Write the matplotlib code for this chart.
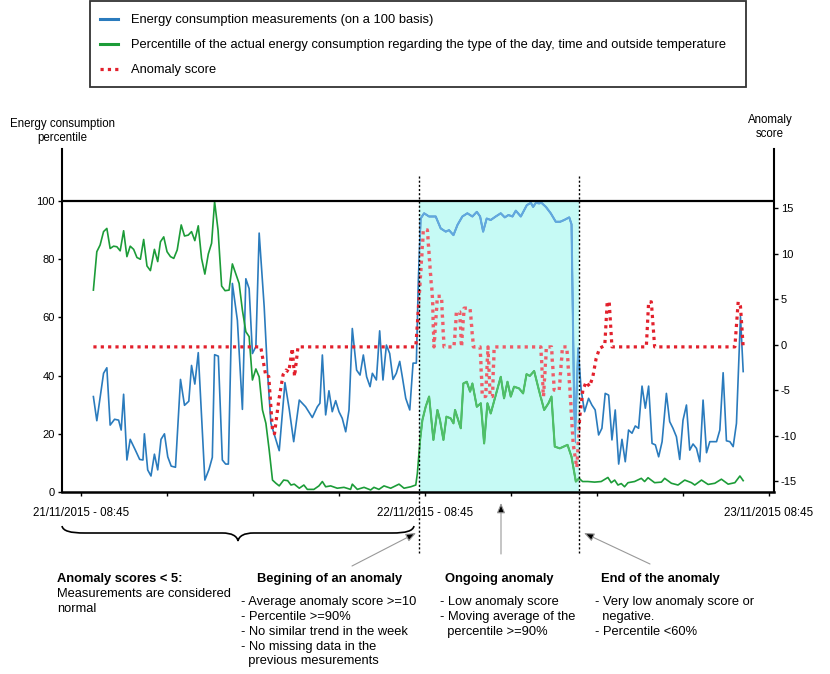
import numpy as np
import matplotlib.pyplot as plt
from matplotlib.path import Path
from matplotlib.patches import PathPatch, Rectangle
import matplotlib.transforms as mtransforms

plt.rcParams['font.family'] = ['Liberation Sans', 'DejaVu Sans']
plt.rcParams['axes.unicode_minus'] = False

W, H = 830, 674

# time axis: hours after 21/11/2015 08:45
t_cons = [0.86, 1.10, 1.57, 1.80, 2.03, 2.34, 2.62, 2.80, 2.97, 3.20, 3.43, 3.79, 4.09, 4.32,
          4.42, 4.65, 4.88, 5.12, 5.35, 5.58, 5.82, 6.05, 6.29, 6.59, 6.94, 7.22, 7.52, 7.71,
          7.94, 8.18, 8.64, 8.93, 9.16, 9.32, 9.58, 9.86, 10.09, 10.28, 10.56, 10.91, 11.26,
          11.50, 11.73, 11.96, 12.20, 12.43, 12.78, 13.01, 13.25, 13.60, 13.83, 14.23, 14.53,
          14.84, 15.23, 15.67, 16.14, 16.49, 16.67, 16.84, 17.07, 17.30, 17.53, 17.77, 18.00,
          18.23, 18.47, 18.70, 18.93, 19.23, 19.47, 19.70, 19.93, 20.17, 20.33, 20.61, 20.84,
          21.07, 21.31, 21.54, 21.77, 22.00, 22.24, 22.42, 22.66, 22.94, 23.17, 23.40, 23.54,
          23.70, 23.94, 24.29, 24.75, 25.10, 25.45, 25.68, 25.99, 26.27, 26.61, 26.96, 27.31,
          27.62, 27.85, 28.06, 28.31, 28.59, 28.94, 29.29, 29.57, 29.83, 30.11, 30.34, 30.69,
          31.11, 31.39, 31.55, 31.74, 31.97, 32.13, 32.44, 32.78, 33.13, 33.44, 33.72, 34.07,
          34.23, 34.45, 34.70, 34.90, 35.14, 35.42, 35.65, 35.88, 36.12, 36.35, 36.58, 36.82,
          37.05, 37.28, 37.52, 37.75, 37.98, 38.21, 38.45, 38.68, 38.91, 39.15, 39.38, 39.61,
          39.85, 40.08, 40.31, 40.55, 40.85, 41.08, 41.31, 41.55, 41.78, 42.01, 42.25, 42.48,
          42.71, 42.95, 43.18, 43.41, 43.65, 43.88, 44.11, 44.35, 44.58, 44.81, 45.04, 45.28,
          45.51, 45.74, 46.02, 46.21]
consumption = [32.8, 24.5, 40.8, 42.7, 23.0, 25.0, 24.7, 21.3, 33.6, 11.0, 18.1, 14.4, 11.2, 11.0,
               20.0, 7.6, 5.5, 13.0, 7.6, 18.1, 20.0, 12.1, 8.9, 8.5, 38.7, 29.8, 31.2, 43.5,
               37.1, 47.9, 4.1, 7.8, 11.9, 47.2, 46.7, 11.0, 9.6, 9.6, 71.7, 59.0, 28.4,
               73.3, 69.9, 47.6, 50.0, 89.0, 63.7, 41.4, 23.6, 17.9, 14.2, 37.6, 28.4,
               17.3, 31.6, 29.3, 25.6, 29.3, 30.5, 47.1, 26.5, 34.8, 27.6, 31.4, 27.6,
               25.3, 20.7, 28.2, 56.2, 41.9, 40.2, 47.1, 39.6, 36.2, 40.8, 38.5, 55.4,
               38.5, 50.5, 47.6, 38.7, 40.8, 44.9, 39.6, 32.2, 28.2, 44.3, 44.3, 72.9,
               94.0, 95.8, 94.7, 94.7, 90.6, 89.5, 90.0, 88.3, 91.8, 94.7, 95.8, 94.7,
               96.3, 94.7, 89.5, 94.0, 93.5, 94.7, 95.8, 94.4, 95.2, 94.7, 96.7, 94.7,
               98.6, 99.4, 98.0, 99.4, 99.2, 99.4, 98.0, 95.8, 92.9, 92.9, 93.5, 94.4,
               92.0, 17.0, 49.4, 35.0, 27.6, 32.2, 29.9, 28.2, 19.6, 21.9, 33.9, 33.3,
               17.9, 28.2, 9.6, 18.1, 10.4, 21.3, 20.2, 22.7, 21.9, 36.4, 28.8, 36.4,
               16.7, 16.2, 12.1, 17.3, 33.9, 24.2, 21.9, 19.0, 11.2, 24.7, 29.9, 14.4,
               16.5, 15.0, 10.4, 31.6, 13.5, 17.3, 17.3, 17.3, 21.3, 41.0, 17.6, 17.3,
               15.6, 23.6, 60.3, 41.4]

t_perc = [0.86, 1.10, 1.33, 1.57, 1.80, 2.03, 2.27, 2.50, 2.73, 2.97, 3.20, 3.43, 3.67, 3.90,
          4.14, 4.37, 4.60, 4.84, 5.12, 5.35, 5.54, 5.77, 6.00, 6.24, 6.47, 6.71, 6.99, 7.22,
          7.48, 7.71, 7.94, 8.18, 8.41, 8.64, 8.88, 9.11, 9.32, 9.56, 9.81, 10.05, 10.33,
          10.56, 10.79, 11.03, 11.26, 11.50, 11.73, 11.96, 12.20, 12.43, 12.66, 12.90, 13.13,
          13.36, 13.60, 13.83, 14.14, 14.42, 14.65, 14.88, 15.23, 15.55, 15.79, 16.25, 16.60,
          16.84, 17.07, 17.42, 17.88, 18.35, 18.81, 18.93, 19.28, 19.75, 20.21, 20.44, 20.79,
          21.14, 21.61, 22.19, 22.54, 23.01, 23.36, 23.47, 23.66, 23.82, 24.05, 24.29, 24.59,
          24.87, 25.05, 25.29, 25.50, 25.80, 25.99, 26.10, 26.50, 26.68, 26.92, 27.15, 27.31,
          27.62, 27.90, 28.13, 28.36, 28.59, 28.94, 29.29, 29.52, 29.76, 29.99, 30.22, 30.57,
          30.85, 31.09, 31.32, 31.62, 31.97, 32.32, 32.62, 32.83, 33.06, 33.41, 33.95, 34.23,
          34.53, 34.76, 35.00, 35.37, 35.84, 36.30, 36.77, 37.00, 37.24, 37.47, 37.70, 37.93,
          38.17, 38.63, 39.10, 39.33, 39.57, 40.03, 40.50, 40.73, 41.20, 41.66, 42.13, 42.60,
          42.83, 43.30, 43.76, 44.23, 44.69, 45.16, 45.63, 45.98, 46.21]
percentile = [69.4, 82.6, 84.9, 89.5, 90.6, 83.7, 84.5, 84.3, 82.9, 89.8, 80.9, 84.5, 83.4, 80.6,
              80.0, 86.8, 77.7, 76.1, 83.4, 79.2, 86.0, 87.7, 82.6, 80.9, 80.3, 83.2, 91.8, 88.0,
              88.3, 89.5, 86.4, 91.5, 80.3, 74.9, 81.8, 85.5, 99.8, 90.0, 70.8, 69.2, 69.4,
              78.4, 75.1, 71.7, 62.5, 55.1, 53.4, 38.5, 42.3, 39.6, 28.2, 23.6, 14.4,
              4.1, 3.0, 2.1, 4.1, 3.9, 2.4, 2.7, 1.3, 2.4, 0.9, 0.9, 2.1,
              3.6, 1.8, 2.1, 1.3, 1.6, 0.9, 2.7, 0.9, 1.6, 0.7, 1.6, 0.9,
              2.1, 1.3, 2.7, 1.3, 1.8, 2.4, 6.4, 17.9, 24.7, 29.3, 32.8, 17.9,
              28.2, 24.7, 17.9, 25.9, 25.3, 23.6, 28.2, 21.9, 37.3, 37.9, 34.5, 37.3,
              29.3, 30.5, 16.7, 30.5, 27.0, 33.3, 39.6, 32.2, 37.9, 32.8, 36.2, 35.6,
              33.9, 40.5, 39.9, 41.6, 34.7, 28.2, 30.5, 32.8, 15.6, 15.0, 16.2, 12.1,
              3.6, 4.7, 3.6, 3.6, 3.4, 3.6, 5.0, 3.2, 4.1, 2.4, 2.9, 1.8,
              3.2, 3.6, 4.7, 3.6, 4.9, 3.2, 3.4, 4.7, 3.0, 2.4, 4.1, 3.2,
              2.4, 4.1, 2.6, 3.0, 4.4, 2.7, 3.2, 5.5, 3.9]

t_score = [0.86, 12.54, 12.90, 13.10, 13.36, 13.50, 13.80, 14.10, 14.30, 14.50, 14.74, 14.90,
           15.14, 23.36, 23.52, 23.70, 23.89, 24.17, 24.40, 24.52, 24.63, 24.87, 25.15, 25.33,
           26.03, 26.20, 26.43, 26.55, 26.73, 27.15, 27.38, 27.85, 28.01, 28.24, 28.40, 28.55,
           28.71, 28.83, 32.09, 32.27, 32.48, 32.83, 33.02, 33.37, 33.60, 33.90, 34.10, 34.35,
           34.60, 34.80, 35.02, 35.25, 35.49, 35.72, 35.95, 36.19, 36.55, 36.72, 36.86, 37.05,
           39.45, 39.61, 39.80, 40.03, 45.63, 45.86, 46.02, 46.21]
score = [-0.25, -0.25, -3.5, -3.5, -9.4, -9.8, -6.1, -3.3, -2.8, -3.0, -0.4, -3.5,
         -0.25, -0.25, 3.4, 7.8, 12.6, 12.6, 7.5, 5.3, -0.25, 5.3, 5.3, -0.25,
         -0.25, 3.6, 3.6, -0.25, 4.0, 4.0, -0.25, -0.25, -5.7, -5.7, -0.25, -5.7,
         -5.7, -0.25, -0.25, -5.7, -0.25, -0.25, -5.0, -5.0, -0.25, -0.25, -4.5, -11.0,
         -13.5, -8.0, -5.0, -4.1, -4.6, -3.5, -1.5, -0.4, -0.1, 4.7, 4.7, -0.25,
         -0.25, 4.7, 4.7, -0.25, -0.25, 4.7, 4.2, -0.25]

anomaly_start = 23.6
anomaly_end = 34.75

xtick_hours = [0, 6, 12, 18, 24, 30, 36, 42, 48]
xtick_labels = ['21/11/2015 - 08:45', '', '', '', '22/11/2015 - 08:45', '', '', '', '23/11/2015 08:45']
left_ticks = [0, 20, 40, 60, 80, 100]
right_ticks = [-15, -10, -5, 0, 5, 10, 15]

legend_labels = ['Energy consumption measurements (on a 100 basis)',
                 'Percentille of the actual energy consumption regarding the type of the day, time and outside temperature',
                 'Anomaly score']

blue, blue_in = '#2a7bbd', '#62a8de'
green, green_in = '#1c9c38', '#4fbf68'
red, red_in = '#e2202c', '#ef5b67'

fig = plt.figure(figsize=(W / 100, H / 100), dpi=100)

# overlay in pixel units for annotations
ov = fig.add_axes([0, 0, 1, 1])
ov.set_xlim(0, W)
ov.set_ylim(H, 0)
ov.axis('off')

ax = fig.add_axes([62 / W, 182 / H, 712 / W, 343 / H])
ax2 = ax.twinx()
ax.set_xlim(-1.33, 48.36)
ax.set_ylim(0, 117.9)
ax2.set_ylim(-16.2, 21.5)

ax.axvspan(anomaly_start, anomaly_end, ymin=0, ymax=100 / 117.9,
           color='#c6faf5', lw=0, zorder=0.5)

l1, = ax.plot(t_cons, consumption, color=blue, lw=1.2)
l2, = ax.plot(t_perc, percentile, color=green, lw=1.2)
l3, = ax2.plot(t_score, score, color=red, lw=2.3, ls=(0, (1, 1.3)))

# lighter copies of the lines inside the shaded period
span_tr = mtransforms.blended_transform_factory(ax.transData, ax.transAxes)


def shaded_clip():
    return Rectangle((anomaly_start, 0), anomaly_end - anomaly_start, 100 / 117.9,
                     transform=span_tr)


for t, v, c in [(t_cons, consumption, blue_in), (t_perc, percentile, green_in)]:
    ln, = ax.plot(t, v, color=c, lw=1.5, zorder=3)
    ln.set_clip_path(shaded_clip())

# hide the dark dots inside, then redraw them lighter
ln, = ax2.plot(t_score, score, color='#c6faf5', lw=2.6, zorder=3)
ln.set_clip_path(shaded_clip())
ln, = ax2.plot(t_score, score, color=red_in, lw=2.3, ls=(0, (1, 1.3)), zorder=4)
ln.set_clip_path(shaded_clip())

ax.axhline(100, color='black', lw=1.6, zorder=7)

ax.set_xticks(xtick_hours)
ax.set_xticklabels(xtick_labels)
ax.set_yticks(left_ticks)
ax2.set_yticks(right_ticks)

for s in ['top', 'right']:
    ax.spines[s].set_visible(False)
for s in ['top', 'left', 'bottom']:
    ax2.spines[s].set_visible(False)
ax.spines['left'].set_linewidth(1.5)
ax.spines['bottom'].set_linewidth(1.8)
ax2.spines['right'].set_linewidth(1.5)

ax.tick_params(axis='x', length=3, width=1, pad=8, labelsize=8.3)
ax.tick_params(axis='y', length=3, width=1, pad=2, labelsize=8)
ax2.tick_params(axis='y', length=3, width=1, pad=2, labelsize=8)

# dotted limits of the anomaly
blend = mtransforms.blended_transform_factory(ax2.transData, ov.transData)
for t in [anomaly_start, anomaly_end]:
    ax2.plot([t, t], [176, 553], transform=blend, color='black', lw=1,
             ls=(0, (1.5, 1.5)), clip_on=False, zorder=8)

# legend
leg = fig.legend([l1, l2, l3], legend_labels, loc='upper left',
                 bbox_to_anchor=(100 / W, 1 - 14 / H), frameon=False, fontsize=9.3,
                 handlelength=1.4, handletextpad=1.0, labelspacing=1.02,
                 borderpad=0, borderaxespad=0)
for ln in leg.get_lines()[:2]:
    ln.set_linewidth(2.2)
ov.add_patch(Rectangle((90, 0.5), 656, 86.5, fill=False, ec='#333333', lw=1.3))

# axis titles
ov.text(62, 131, 'Energy consumption\npercentile', ha='center', va='center', fontsize=8.3,
        linespacing=1.25)
ov.text(770, 127, 'Anomaly\nscore', ha='center', va='center', fontsize=8.3, linespacing=1.25)

# brace under the normal period
verts = [(62, 526), (63, 531), (70, 533), (85, 533),
         (222, 533),
         (232, 533), (237, 536), (238, 541),
         (239, 536), (244, 533), (254, 533),
         (392, 533),
         (406, 533), (413, 531), (414, 526)]
codes = [Path.MOVETO, Path.CURVE4, Path.CURVE4, Path.CURVE4,
         Path.LINETO,
         Path.CURVE4, Path.CURVE4, Path.CURVE4,
         Path.CURVE4, Path.CURVE4, Path.CURVE4,
         Path.LINETO,
         Path.CURVE4, Path.CURVE4, Path.CURVE4]
ov.add_patch(PathPatch(Path(verts, codes), fill=False, lw=1.2, ec='black'))

arrow = dict(arrowstyle='-|>,head_length=0.6,head_width=0.25', ec='#999999', fc='black',
             lw=0.8, shrinkA=0, shrinkB=0)
ov.annotate('', xy=(416, 533), xytext=(352, 566), arrowprops=arrow)
ov.annotate('', xy=(501, 503), xytext=(501, 554), arrowprops=arrow)
ov.annotate('', xy=(584, 533), xytext=(650, 564), arrowprops=arrow)

fs = 9.3
ov.text(57, 579, 'Anomaly scores < 5:', fontsize=fs, fontweight='bold', va='center')
ov.text(57, 594, 'Measurements are considered', fontsize=fs, va='center')
ov.text(57, 609, 'normal', fontsize=fs, va='center')

ov.text(257, 579, 'Begining of an anomaly', fontsize=fs, fontweight='bold', va='center')
for y, s in zip([602, 617, 632, 647, 661],
                ['- Average anomaly score >=10', '- Percentile >=90%',
                 '- No similar trend in the week', '- No missing data in the',
                 '  previous mesurements']):
    ov.text(241, y, s, fontsize=fs, va='center')

ov.text(445, 579, 'Ongoing anomaly', fontsize=fs, fontweight='bold', va='center')
for y, s in zip([602, 617, 632],
                ['- Low anomaly score', '- Moving average of the', '  percentile >=90%']):
    ov.text(440, y, s, fontsize=fs, va='center')

ov.text(601, 579, 'End of the anomaly', fontsize=fs, fontweight='bold', va='center')
for y, s in zip([602, 617, 632],
                ['- Very low anomaly score or', '  negative.', '- Percentile <60%']):
    ov.text(595, y, s, fontsize=fs, va='center')

fig.savefig('out.png', dpi=100)
